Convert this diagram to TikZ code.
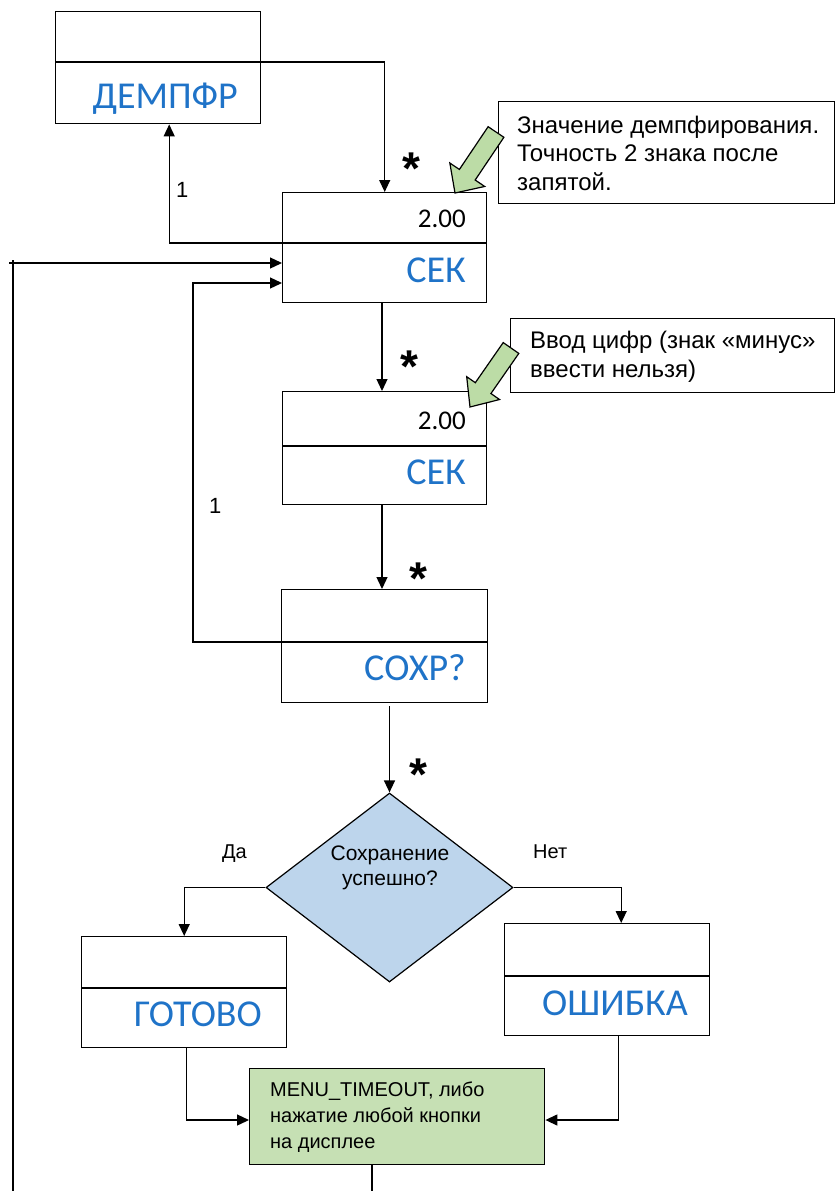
\documentclass[tikz,border=0pt]{standalone}
\usepackage{fontspec}
\setmainfont{Liberation Sans}
\newfontfamily\calfont{Carlito}
\usetikzlibrary{shapes.geometric,arrows.meta,calc}
\definecolor{lblblue}{HTML}{1F73C8}
\definecolor{dfill}{HTML}{BDD5EC}
\definecolor{gfill}{HTML}{C6E0B4}
\definecolor{afill}{HTML}{BCDCA6}
\begin{document}
\begin{tikzpicture}[x=1pt,y=-1pt,
  conn/.style={line width=1.3pt, -{Triangle[length=12pt,width=11pt]}},
  plain/.style={line width=1.3pt},
  box/.style={draw, line width=1.4pt, anchor=north west, inner sep=0pt, fill=white},
  lbl/.style={font=\calfont\fontsize{38}{38}\selectfont, text=lblblue, inner sep=0pt, anchor=base east},
  val/.style={font=\calfont\fontsize{27}{27}\selectfont, inner sep=0pt, anchor=base east},
  note/.style={font=\fontsize{20}{26}\selectfont, inner sep=0pt},
  callout/.style={font=\fontsize{24}{28.5}\selectfont, inner sep=0pt, align=left, anchor=base west},
  starlbl/.style={font=\bfseries\fontsize{46}{46}\selectfont, inner sep=0pt, anchor=base},
  garrow/.style={fill=afill, draw=black, line width=1.2pt, line join=miter},
]
\useasboundingbox (0,0) rectangle (835,1191);

% boxes
\node[box, minimum width=205pt, minimum height=112pt] (b0) at (55,11) {};
\node[box, minimum width=204pt, minimum height=110pt] (b1) at (282,192) {};
\node[box, minimum width=204pt, minimum height=113pt] (b2) at (282,391) {};
\node[box, minimum width=206pt, minimum height=113pt] (b3) at (281,589) {};
\node[box, minimum width=205pt, minimum height=111pt] (b4) at (81,936) {};
\node[box, minimum width=205pt, minimum height=112pt] (b5) at (504,923) {};
\node[box, fill=gfill, minimum width=295pt, minimum height=96pt] (g) at (249,1068) {};
\node[box, minimum width=336pt, minimum height=102pt] (c1) at (498,101) {};
\node[box, minimum width=324pt, minimum height=74pt] (c2) at (510,318) {};
\node[diamond, draw, line width=1.2pt, fill=dfill, inner sep=0pt,
      minimum width=247pt, minimum height=189pt] (d) at (389.5,887.5) {};

% dividers
\coordinate (b0d) at (b0.north east |- 0,62);
\coordinate (b1d) at (b1.north west |- 0,243);
\coordinate (b3d) at (b3.north west |- 0,642);
\draw[plain] (b0.north west |- 0,62) -- (b0d);
\draw[plain] (b1d) -- (b1.north east |- 0,243);
\draw[plain] (b2.north west |- 0,446) -- (b2.north east |- 0,446);
\draw[plain] (b3d) -- (b3.north east |- 0,642);
\draw[plain] (b4.north west |- 0,988) -- (b4.north east |- 0,988);
\draw[plain] (b5.north west |- 0,976) -- (b5.north east |- 0,976);

% labels in boxes
\node[lbl] (t0) at (238,108) {ДЕМПФР};
\node[val] (v1) at (466,227) {2.00};
\node[lbl] (t1) at (466,282) {СЕК};
\node[val] (v2) at (466,429) {2.00};
\node[lbl] (t2) at (466,484) {СЕК};
\node[lbl] (t3) at (466,680) {СОХР?};
\node[lbl] (t4) at (262,1026) {ГОТОВО};
\node[lbl] (t5) at (688,1015) {ОШИБКА};
\node[note, align=center, anchor=base, font=\fontsize{21}{25}\selectfont] (dt) at (390,885) {Сохранение\\успешно?};
\node[note, align=left, anchor=base west] (gt) at (270,1148) {MENU\_TIMEOUT, либо\\нажатие любой кнопки\\на дисплее};
\node[callout] (ct1) at (517,190) {Значение демпфирования.\\Точность 2 знака после\\запятой.};
\node[callout, font=\fontsize{24}{29}\selectfont] (ct2) at (530,377) {Ввод цифр (знак «минус»\\ввести нельзя)};

% connector labels
\node[note, anchor=base west, font=\fontsize{22}{22}\selectfont] (one1) at (176,197) {1};
\node[note, anchor=base west, font=\fontsize{22}{22}\selectfont] (one2) at (209,513) {1};
\node[note, anchor=base west] (da) at (222,858) {Да};
\node[note, anchor=base west] (net) at (533,858) {Нет};
\node[starlbl] (s1) at (411,184) {*};
\node[starlbl] (s2) at (409,382) {*};
\node[starlbl] (s3) at (418,594) {*};
\node[starlbl] (s4) at (418,790) {*};

% connectors
\draw[conn] (b0d) -| (b1.north);
\draw[conn] (b1d) -| ($(b0.south)+(11,0)$);
\coordinate (lbot) at (13,1191);
\coordinate (lcorner) at (13,260);
\coordinate (lstart) at (9,263);
\draw[plain] (lbot) -- (lcorner);
\draw[conn] (lstart) -- (b1.west |- 0,263);
\draw[conn] (b3d) -- (193,642) |- (b1.west |- 0,283);
\draw[conn] (b1.south -| 382,0) -- (b2.north -| 382,0);
\draw[conn] (b2.south -| 382,0) -- (b3.north -| 382,0);
\draw[conn] (d.north |- 0,706) -- (d.north);
\draw[conn] (d.west) -| (b4.north);
\draw[conn] (d.east) -| ($(b5.north)+(14,0)$);
\draw[conn] ($(b4.south)+(2,0)$) |- (g.west |- 0,1120);
\draw[conn] ($(b5.south)+(11,0)$) |- (g.east |- 0,1120);
\coordinate (gbot) at (372,1191);
\draw[plain] (g.south -| gbot) -- (gbot);

% green block arrows
\coordinate (a1t) at (496,132);
\coordinate (a1p) at (455,193);
\coordinate (a1h) at ($(a1p)!22pt!(a1t)$);
\draw[garrow] ($(a1t)!9.5pt!90:(a1p)$) -- ($(a1h)!9.5pt!90:(a1p)$) -- ($(a1h)!21pt!90:(a1p)$) -- (a1p)
  -- ($(a1h)!21pt!-90:(a1p)$) -- ($(a1h)!9.5pt!-90:(a1p)$) -- ($(a1t)!9.5pt!-90:(a1p)$) -- cycle;
\coordinate (a2t) at (511,348);
\coordinate (a2p) at (470,407);
\coordinate (a2h) at ($(a2p)!23pt!(a2t)$);
\draw[garrow] ($(a2t)!9.5pt!90:(a2p)$) -- ($(a2h)!9.5pt!90:(a2p)$) -- ($(a2h)!20pt!90:(a2p)$) -- (a2p)
  -- ($(a2h)!20pt!-90:(a2p)$) -- ($(a2h)!9.5pt!-90:(a2p)$) -- ($(a2t)!9.5pt!-90:(a2p)$) -- cycle;
\end{tikzpicture}
\end{document}
